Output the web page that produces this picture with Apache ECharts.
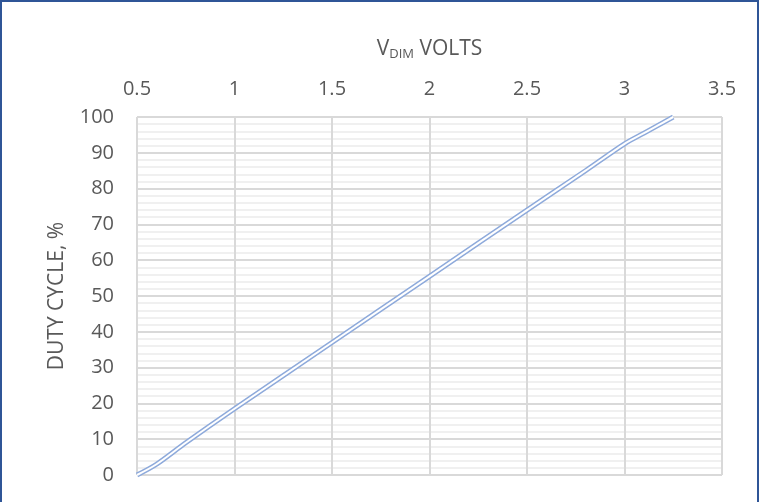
<!DOCTYPE html>
<html><head><meta charset="utf-8">
<script src="https://cdn.jsdelivr.net/npm/echarts@6/dist/echarts.min.js"></script>
<style>html,body{margin:0;padding:0;background:#fff}#c{width:759px;height:502px;box-sizing:border-box;border:2px solid #2f5597;border-bottom:none}</style>
</head><body><div id="c"></div>
<script>
const voltage = [0.5, 0.6, 0.75, 1.0, 1.5, 2.0, 2.5, 2.8, 3.0, 3.1, 3.25];
const duty    = [0,   3,   9,    18.5, 37, 55.5, 74,  85,  92.5, 95.5, 100];
const xTitle = 'V{sub|DIM} VOLTS';
const yTitle = 'DUTY CYCLE, %';
const pts = voltage.map((v, i) => [v, duty[i]]);
const font = '"Open Sans", Lato, sans-serif';
const chart = echarts.init(document.getElementById('c'));
chart.setOption({
  animation: false,
  grid: {left: 135, right: 35, top: 115, bottom: 27, containLabel: false},
  xAxis: {
    type: 'value', position: 'top', min: 0.5, max: 3.5, interval: 0.5,
    name: xTitle, nameLocation: 'middle', nameGap: 56,
    nameTextStyle: {color: '#595959', fontSize: 21, fontFamily: font,
      rich: {sub: {fontSize: 13, color: '#595959', fontFamily: font, verticalAlign: 'bottom', padding: [10, 0, 0, 0]}}},
    axisLine: {show: false}, axisTick: {show: false},
    axisLabel: {color: '#595959', fontSize: 20, fontFamily: font, margin: 18},
    splitLine: {show: true, lineStyle: {color: '#d9d9d9', width: 2}}
  },
  yAxis: {
    type: 'value', min: 0, max: 100, interval: 10,
    name: yTitle, nameLocation: 'middle', nameGap: 69, nameRotate: 90,
    nameTextStyle: {color: '#595959', fontSize: 21, fontFamily: font},
    axisLine: {show: false}, axisTick: {show: false},
    axisLabel: {color: '#595959', fontSize: 20, fontFamily: font, margin: 23},
    splitLine: {show: true, lineStyle: {color: '#d9d9d9', width: 2}},
    minorTick: {show: false, splitNumber: 5},
    minorSplitLine: {show: true, lineStyle: {color: '#ececec', width: 1.5}}
  },
  series: [
    {type: 'line', data: pts, smooth: 0.3, symbol: 'none', lineStyle: {color: '#8eaadb', width: 5}, z: 3},
    {type: 'line', data: pts, smooth: 0.3, symbol: 'none', lineStyle: {color: '#ffffff', width: 2}, z: 4}
  ]
});
</script></body></html>
